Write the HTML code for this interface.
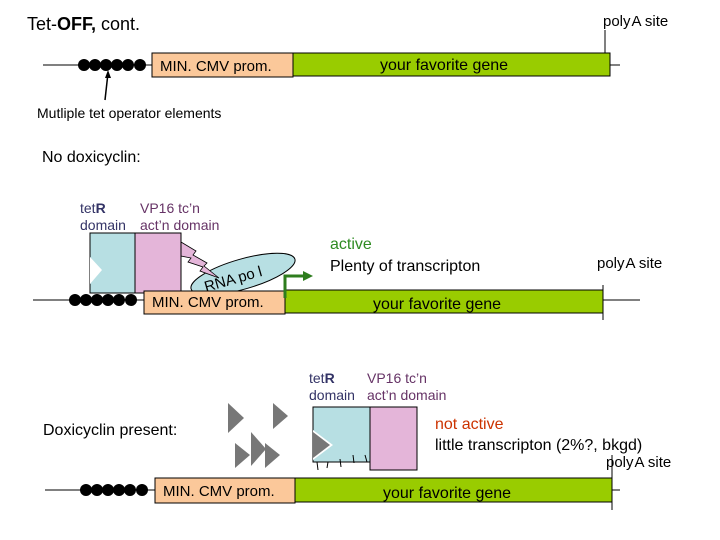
<!DOCTYPE html>
<html><head><style>body{margin:0;background:#fff}svg{display:block}text{font-family:"Liberation Sans",sans-serif}</style></head><body>
<svg width="720" height="540" viewBox="0 0 720 540" xmlns="http://www.w3.org/2000/svg">
<text x="27" y="30" font-size="18">Tet-<tspan font-weight="bold">OFF,</tspan> cont.</text>
<text x="603" y="26" font-size="15">poly<tspan dx="1">A site</tspan></text>
<line x1="43" y1="65" x2="620" y2="65" stroke="#000"/>
<line x1="605" y1="30" x2="605" y2="70" stroke="#000"/>
<g fill="#000"><circle cx="84" cy="65" r="6"/><circle cx="95" cy="65" r="6"/><circle cx="106" cy="65" r="6"/><circle cx="117" cy="65" r="6"/><circle cx="128" cy="65" r="6"/><circle cx="140" cy="65" r="6"/></g>
<rect x="152" y="53" width="141" height="24" fill="#fbc89a" stroke="#000"/>
<text x="160" y="71" font-size="15">MIN. CMV prom.</text>
<rect x="293" y="53" width="317" height="23" fill="#99cc00" stroke="#000"/>
<text x="380" y="70" font-size="16">your favorite gene</text>
<line x1="105" y1="100" x2="108" y2="73" stroke="#000" stroke-width="1.5"/>
<polygon points="108,70 105,78 111,78" fill="#000"/>
<text x="37" y="118" font-size="14">Mutliple tet operator elements</text>
<text x="42" y="162" font-size="16">No doxicyclin:</text>
<!-- row 2 -->
<text x="80" y="213" font-size="14" fill="#333366">tet<tspan font-weight="bold">R</tspan></text>
<text x="80" y="230" font-size="14" fill="#333366">domain</text>
<text x="140" y="213" font-size="14" fill="#663366">VP16 tc’n</text>
<text x="140" y="230" font-size="14" fill="#663366">act’n domain</text>
<line x1="33" y1="300" x2="640" y2="300" stroke="#000"/>
<g fill="#000"><circle cx="75" cy="300" r="6"/><circle cx="86" cy="300" r="6"/><circle cx="97" cy="300" r="6"/><circle cx="108" cy="300" r="6"/><circle cx="119" cy="300" r="6"/><circle cx="131" cy="300" r="6"/></g>
<ellipse cx="243" cy="274" rx="54" ry="15" transform="rotate(-16 243 274)" fill="#b7dfe3" stroke="#000"/>
<text x="206" y="292" font-size="15" transform="rotate(-16 206 292)">RNA po l</text>
<polygon points="181,242 196,251 193,255 207,263 204,266 219,278 200,271 203,267 188,262 191,258 181,256" fill="#e4b5d9" stroke="#000" stroke-width="0.8"/>
<rect x="90" y="233" width="45" height="60" fill="#b7dfe3" stroke="#000"/>
<polygon points="90,257 102,270 90,284" fill="#fff"/>
<rect x="135" y="233" width="46" height="60" fill="#e4b5d9" stroke="#000"/>
<rect x="144" y="291" width="141" height="23" fill="#fbc89a" stroke="#000"/>
<text x="152" y="307" font-size="15">MIN. CMV prom.</text>
<rect x="285" y="290" width="318" height="23" fill="#99cc00" stroke="#000"/>
<text x="373" y="309" font-size="16">your favorite gene</text>
<polyline points="285,298 285,276 306,276" fill="none" stroke="#2e7d1e" stroke-width="3"/>
<polygon points="303,271 313,276 303,281" fill="#2e7d1e"/>
<text x="330" y="249" font-size="16" fill="#2e8b22">active</text>
<text x="330" y="271" font-size="16">Plenty of transcripton</text>
<text x="597" y="268" font-size="15">poly<tspan dx="1">A site</tspan></text>
<line x1="603" y1="285" x2="603" y2="320" stroke="#000"/>
<!-- row 3 -->
<text x="309" y="383" font-size="14" fill="#333366">tet<tspan font-weight="bold">R</tspan></text>
<text x="309" y="400" font-size="14" fill="#333366">domain</text>
<text x="367" y="383" font-size="14" fill="#663366">VP16 tc’n</text>
<text x="367" y="400" font-size="14" fill="#663366">act’n domain</text>
<text x="43" y="435" font-size="16">Doxicyclin present:</text>
<g fill="#777"><polygon points="228,403 244,418 228,433"/><polygon points="273,403 288,416 273,429"/><polygon points="235,443 250,455 235,468"/><polygon points="251,432 266,449 251,466"/><polygon points="265,443 280,455 265,468"/></g>
<rect x="313" y="407" width="57" height="55" fill="#b7dfe3" stroke="#000"/>
<polygon points="313,430 333,445 313,460" fill="#fff"/>
<polygon points="313,432 330,445 313,458" fill="#777"/>
<g stroke="#000"><line x1="317" y1="462" x2="318" y2="470"/><line x1="328" y1="462" x2="327" y2="468"/><line x1="340" y1="459" x2="341" y2="467"/><line x1="353" y1="455" x2="354" y2="463"/><line x1="365" y1="455" x2="367" y2="462"/></g>
<rect x="370" y="407" width="47" height="63" fill="#e4b5d9" stroke="#000"/>
<text x="435" y="429" font-size="16" fill="#cc3300">not active</text>
<text x="435" y="450" font-size="16">little transcripton (2%?, bkgd)</text>
<text x="606" y="467" font-size="15">poly<tspan dx="1">A site</tspan></text>
<line x1="612" y1="455" x2="612" y2="510" stroke="#000"/>
<line x1="45" y1="490" x2="620" y2="490" stroke="#000"/>
<g fill="#000"><circle cx="86" cy="490" r="6"/><circle cx="97" cy="490" r="6"/><circle cx="108" cy="490" r="6"/><circle cx="119" cy="490" r="6"/><circle cx="130" cy="490" r="6"/><circle cx="142" cy="490" r="6"/></g>
<rect x="155" y="478" width="140" height="25" fill="#fbc89a" stroke="#000"/>
<text x="163" y="496" font-size="15">MIN. CMV prom.</text>
<rect x="295" y="478" width="317" height="24" fill="#99cc00" stroke="#000"/>
<text x="383" y="498" font-size="16">your favorite gene</text>
</svg>
</body></html>
